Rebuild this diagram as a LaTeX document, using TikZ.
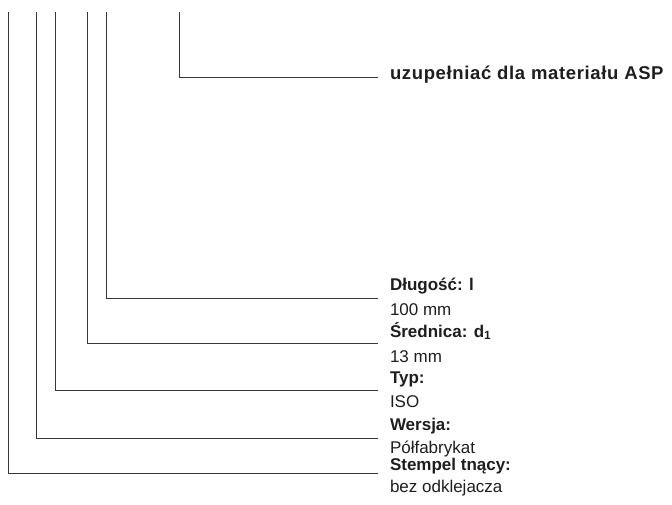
\documentclass[tikz,border=0pt]{standalone}
\usepackage{fontspec}
\setmainfont{Liberation Sans}
\usetikzlibrary{positioning}
\definecolor{leadgray}{RGB}{55,55,55}
\definecolor{textblack}{RGB}{30,30,30}

\begin{document}
\begin{tikzpicture}
  [x=1pt,y=-1pt,
   every node/.style={inner sep=0pt,outer sep=12pt,anchor=base west,text=textblack,
     font=\fontsize{17}{20}\selectfont},
   head/.style={font=\fontsize{17}{20}\selectfont\bfseries},
   lead/.style={draw=leadgray,line width=0.9pt}]
  \useasboundingbox (0,0) rectangle (672,504);
  % top ends of the leads
  \coordinate (t0) at (179,12);
  \coordinate (t1) at (106,12);
  \coordinate (t2) at (87,12);
  \coordinate (t3) at (55,12);
  \coordinate (t4) at (36,12);
  \coordinate (t5) at (8,12);
  % labels
  \node (h0) [font=\fontsize{18.5}{20}\selectfont\bfseries\addfontfeature{LetterSpace=3.5}]
    at (378,79.5) {uzupełniać dla materiału ASP};
  \node (h1) [head] at (378,290) {Długość: l};
  \node (v1) at (378,315) {100 mm};
  \node (h2) [head] at (378,337) {Średnica: d\textsubscript{1}};
  \node (v2) at (378,362) {13 mm};
  \node (h3) [head] at (378,383) {Typ:};
  \node (v3) at (378,407) {ISO};
  \node (h4) [head] at (378,430) {Wersja:};
  \node (v4) at (378,453) {Półfabrykat};
  \node (h5) [head] at (378,470) {Stempel tnący:};
  \node (v5) at (378,492) {bez odklejacza};
  \foreach \from/\to/\dy in {t0/h0/2,t1/h1/-8,t2/h2/-6,t3/h3/-7,t4/h4/-8,t5/h5/-3}
    \draw[lead] (\from) |- ([yshift=\dy pt]\to.base west);
\end{tikzpicture}
\end{document}
